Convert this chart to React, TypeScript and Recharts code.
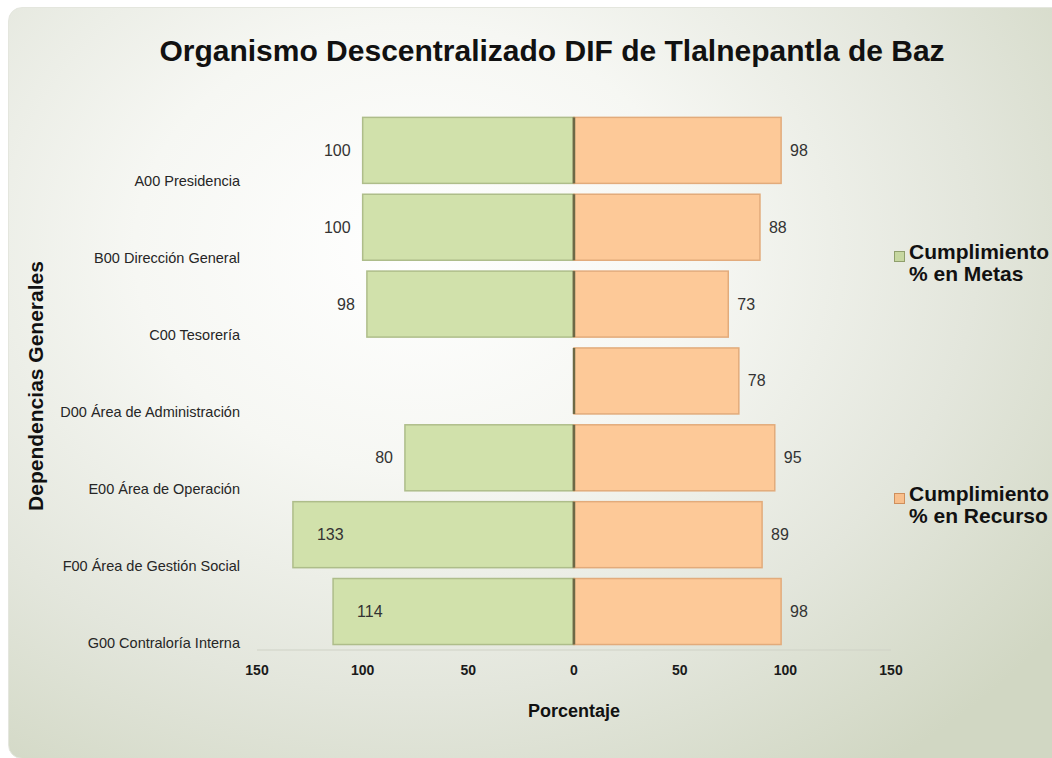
import React from "react";
import { Bar, BarChart, LabelList, Label, XAxis, YAxis } from "recharts";

const dependencias = [
  "A00 Presidencia",
  "B00 Dirección General",
  "C00 Tesorería",
  "D00 Área de Administración",
  "E00 Área de Operación",
  "F00 Área de Gestión Social",
  "G00 Contraloría Interna",
];
const metas: (number | null)[] = [100, 100, 98, null, 80, 133, 114];
const recursos = [98, 88, 73, 78, 95, 89, 98];
const ticks = [-150, -100, -50, 0, 50, 100, 150];

const data = dependencias.map((d, i) => ({
  dep: d,
  metas: metas[i] == null ? null : -(metas[i] as number),
  recursos: recursos[i],
}));

const FONT = '"Liberation Sans", Arial, sans-serif';
const GREEN = "#d1e1ab";
const GREEN_EDGE = "#aebd8a";
const ORANGE = "#fdc998";
const ORANGE_EDGE = "#e2ab7b";
const ZERO = "#6d6946";

const norm = (p: any) => {
  const x = Number(p.x), w = Number(p.width);
  const y = Number(p.y), h = Number(p.height);
  return { left: Math.min(x, x + w), right: Math.max(x, x + w), top: Math.min(y, y + h), h: Math.abs(h) };
};

const GreenBar = (p: any) => {
  if (p.value == null || !p.width) return null;
  const { left, right, top, h } = norm(p);
  return (
    <g>
      <rect x={left} y={top} width={right - left} height={h} fill={GREEN} stroke={GREEN_EDGE} strokeWidth={1.5} />
      <line x1={right} x2={right} y1={top} y2={top + h} stroke={ZERO} strokeWidth={2.5} />
    </g>
  );
};

const OrangeBar = (p: any) => {
  const { left, right, top, h } = norm(p);
  return (
    <g>
      <rect x={left} y={top} width={right - left} height={h} fill={ORANGE} stroke={ORANGE_EDGE} strokeWidth={1.5} />
      <line x1={left} x2={left} y1={top} y2={top + h} stroke={ZERO} strokeWidth={2.5} />
    </g>
  );
};

const greenLabel = (p: any) => {
  if (p.value == null) return null;
  const vb = p.viewBox ?? p;
  const { left, top, h } = norm(vb);
  const v = Math.abs(Number(p.value));
  const inside = v > 100;
  return (
    <text
      x={inside ? left + 24 : left - 12}
      y={top + h / 2}
      textAnchor={inside ? "start" : "end"}
      dominantBaseline="central"
      fontFamily={FONT}
      fontSize={16}
      fill="#333"
    >
      {v}
    </text>
  );
};

const orangeLabel = (p: any) => {
  const vb = p.viewBox ?? p;
  const { right, top, h } = norm(vb);
  return (
    <text x={right + 9} y={top + h / 2} dominantBaseline="central" fontFamily={FONT} fontSize={16} fill="#333">
      {p.value}
    </text>
  );
};

const DepTick = ({ x, y, payload }: any) => (
  <text x={x - 9} y={y + 31} textAnchor="end" dominantBaseline="central" fontFamily={FONT} fontSize={14.5} fill="#262626">
    {payload.value}
  </text>
);

const legendItems = [
  { lines: ["Cumplimiento", "% en Metas"], fill: "#c6d7a0", edge: "#8f9f6c", top: 241 },
  { lines: ["Cumplimiento", "% en Recurso"], fill: "#f8bf8c", edge: "#cf8f5c", top: 483 },
];

export default function App() {
  return (
    <div style={{ position: "absolute", left: 0, top: 0, width: 1052, height: 758, overflow: "hidden", background: "#fff", fontFamily: FONT }}>
      <div
        style={{
          position: "absolute",
          left: 8,
          top: 7,
          width: 1070,
          height: 750,
          borderRadius: 14,
          border: "1px solid #e4e6de",
          background: "radial-gradient(ellipse 75% 85% at 38% 32%, #ffffff 0%, #f6f7f3 35%, #e3e6dc 70%, #d1d7c3 100%)",
        }}
      />
      <div
        style={{
          position: "absolute",
          left: 0,
          width: 1104,
          top: 34,
          textAlign: "center",
          fontSize: 30,
          fontWeight: "bold",
          color: "#111",
        }}
      >
        Organismo Descentralizado DIF de Tlalnepantla de Baz
      </div>
      <div style={{ position: "absolute", left: 0, top: 0 }}>
        <BarChart
          width={1052}
          height={758}
          data={data}
          layout="vertical"
          stackOffset="sign"
          barCategoryGap="7%"
          margin={{ top: 112, right: 161, bottom: 78, left: 40 }}
        >
          <XAxis
            type="number"
            domain={[-150, 150]}
            ticks={ticks}
            tickFormatter={(v: number) => String(Math.abs(v))}
            axisLine={{ stroke: "#cfd2c6" }}
            tickLine={false}
            tickMargin={9}
            tick={{ fontFamily: FONT, fontSize: 14, fontWeight: "bold", fill: "#1a1a1a" }}
          >
            <Label value="Porcentaje" position="bottom" offset={24} style={{ fontFamily: FONT, fontSize: 18, fontWeight: "bold", fill: "#111" }} />
          </XAxis>
          <YAxis
            type="category"
            dataKey="dep"
            width={217}
            axisLine={false}
            tickLine={false}
            tick={<DepTick />}
          >
            <Label
              content={({ viewBox }: any) => {
                const cx = viewBox.x - 5;
                const cy = viewBox.y + viewBox.height / 2 + 5;
                return (
                  <text
                    x={cx}
                    y={cy}
                    transform={`rotate(-90 ${cx} ${cy})`}
                    textAnchor="middle"
                    dominantBaseline="central"
                    fontFamily={FONT}
                    fontSize={21}
                    fontWeight="bold"
                    fill="#111"
                  >
                    Dependencias Generales
                  </text>
                );
              }}
            />
          </YAxis>
          <Bar dataKey="metas" stackId="a" shape={<GreenBar />} isAnimationActive={false}>
            <LabelList dataKey="metas" content={greenLabel} />
          </Bar>
          <Bar dataKey="recursos" stackId="a" shape={<OrangeBar />} isAnimationActive={false}>
            <LabelList dataKey="recursos" content={orangeLabel} />
          </Bar>
        </BarChart>
      </div>
      {legendItems.map((it) => (
        <div key={it.top} style={{ position: "absolute", left: 894, top: it.top, fontSize: 21, fontWeight: "bold", color: "#111", lineHeight: "22px", whiteSpace: "nowrap" }}>
          <span
            style={{
              position: "absolute",
              left: 0,
              top: 10,
              width: 9,
              height: 9,
              background: it.fill,
              border: `1px solid ${it.edge}`,
            }}
          />
          <div style={{ marginLeft: 15 }}>{it.lines[0]}</div>
          <div style={{ marginLeft: 15 }}>{it.lines[1]}</div>
        </div>
      ))}
    </div>
  );
}
